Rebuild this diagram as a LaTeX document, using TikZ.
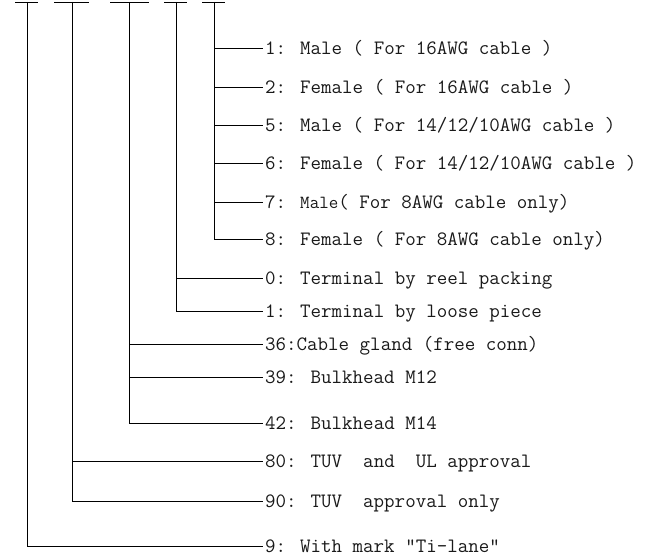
\documentclass[tikz,border=0pt]{standalone}
\usepackage{fontspec}
\begin{document}
\begin{tikzpicture}[x=1pt,y=-1pt,
  wire/.style={draw=black,line width=0.9pt},
  lbl/.style={anchor=base west,inner xsep=2pt,inner ysep=0pt,
    font=\ttfamily\fontsize{20.4}{24}\selectfont,text=black!90}]
\useasboundingbox (0,0) rectangle (652,556);
\def\dy{6.2}
% top bars
\coordinate (t1) at (27,2);
\coordinate (t2) at (72,2);
\coordinate (t3) at (129,2);
\coordinate (t4) at (176,2);
\coordinate (t5) at (214,2);
\draw[wire] (15,2) -- (38,2);
\draw[wire] (54,2) -- (89,2);
\draw[wire] (110,2) -- (149,2);
\draw[wire] (164,2) -- (187,2);
\draw[wire] (202,2) -- (225,2);
% labels (baseline placed so the connector hits mid cap height)
\node[lbl] (l1) at (263,48+\dy) {1: Male ( For 16AWG cable )};
\node[lbl] (l2) at (263,87+\dy) {2: Female ( For 16AWG cable )};
\node[lbl] (l5) at (263,125+\dy) {5: Male ( For 14/12/10AWG cable )};
\node[lbl] (l6) at (263,163+\dy) {6: Female ( For 14/12/10AWG cable )};
\node[lbl] (l7) at (263,202+\dy) {7: {\fontsize{18.5}{20}\selectfont Male}( For 8AWG cable only)};
\node[lbl] (l8) at (263,239+\dy) {8: Female ( For 8AWG cable only)};
\node[lbl] (r0) at (263,278+\dy) {0: Terminal by reel packing};
\node[lbl] (r1) at (263,311+\dy) {1: Terminal by loose piece};
\node[lbl] (c36) at (263,344+\dy) {36:Cable gland (free conn)};
\node[lbl] (c39) at (263,377+\dy) {39: Bulkhead M12};
\node[lbl] (c42) at (263,423+\dy) {42: Bulkhead M14};
\node[lbl] (a80) at (263,461+\dy) {80: TUV\ \ and\ \ UL approval};
\node[lbl] (a90) at (263,501+\dy) {90: TUV\ \ approval only};
\node[lbl] (m9) at (263,546+\dy) {9: With mark ”Ti-lane”};
% connector end points at mid cap height of each label
\foreach \n in {l1,l2,l5,l6,l7,l8,r0,r1,c36,c39,c42,a80,a90,m9}
  \coordinate (h-\n) at ([yshift=\dy pt]\n.base west);
% connectors
\draw[wire] (t5) |- (h-l8);
\foreach \n in {l1,l2,l5,l6,l7} \draw[wire] (t5 |- h-\n) -- (h-\n);
\draw[wire] (t4) |- (h-r1);
\draw[wire] (t4 |- h-r0) -- (h-r0);
\draw[wire] (t3) |- (h-c42);
\foreach \n in {c36,c39} \draw[wire] (t3 |- h-\n) -- (h-\n);
\draw[wire] (t2) |- (h-a90);
\draw[wire] (t2 |- h-a80) -- (h-a80);
\draw[wire] (t1) |- (h-m9);
\end{tikzpicture}
\end{document}
